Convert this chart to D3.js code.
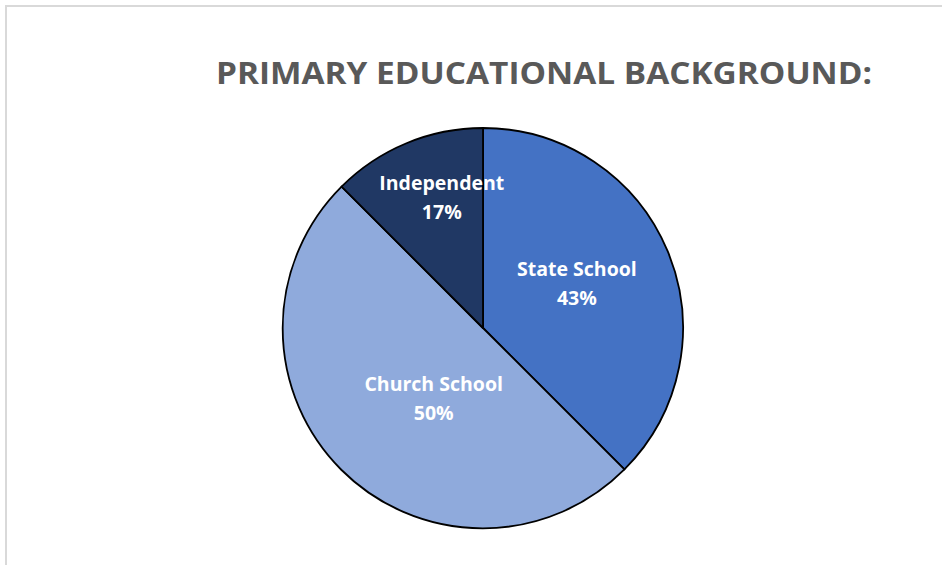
<!DOCTYPE html>
<html>
<head>
<meta charset="utf-8">
<script src="https://cdn.jsdelivr.net/npm/d3@7"></script>
<style>
  html, body { margin: 0; padding: 0; background: #fff; }
  svg { display: block; font-family: "Open Sans", "Noto Sans", sans-serif; }
</style>
</head>
<body>
<svg id="chart" width="942" height="565"></svg>
<script>
// slice shares as drawn, and the percent text printed on each slice
var categories = ["State School", "Church School", "Independent"];
var shares = [37.5, 50, 12.5];
var labels = ["43%", "50%", "17%"];
var colors = ["#4472C4", "#8FAADC", "#203864"];

var svg = d3.select("#chart");
var cx = 483, cy = 328, radius = 200;

// chart frame
svg.append("path")
    .attr("d", "M6,565 V6 H942")
    .attr("fill", "none")
    .attr("stroke", "#d9d9d9")
    .attr("stroke-width", 2);

// title
svg.append("text")
    .attr("x", 216)
    .attr("y", 84)
    .attr("textLength", 656)
    .attr("lengthAdjust", "spacingAndGlyphs")
    .attr("font-size", 31)
    .attr("font-weight", "bold")
    .attr("fill", "#595959")
    .text("PRIMARY EDUCATIONAL BACKGROUND:");

var data = categories.map(function(c, i) {
    return { name: c, value: shares[i], label: labels[i], color: colors[i] };
});

var pie = d3.pie()
    .sort(null)
    .value(function(d) { return d.value; });

var arc = d3.arc().innerRadius(0).outerRadius(radius);

var g = svg.append("g").attr("transform", "translate(" + cx + "," + cy + ")");

var slices = pie(data);

g.selectAll("path.slice")
    .data(slices)
    .enter()
    .append("path")
    .attr("class", "slice")
    .attr("d", arc)
    .attr("fill", function(d) { return d.data.color; })
    .attr("stroke", "#000")
    .attr("stroke-width", 1.8)
    .attr("stroke-linejoin", "round");

// label radius per slice (roughly where Excel put them)
var labelRadius = [104, 86, 137];
var labelShift = [-3, -10, 5]; // degrees

var lab = g.selectAll("text.lbl")
    .data(slices)
    .enter()
    .append("text")
    .attr("class", "lbl")
    .attr("text-anchor", "middle")
    .attr("font-size", 19.5)
    .attr("font-weight", "bold")
    .attr("fill", "#fff")
    .attr("transform", function(d, i) {
        var a = (d.startAngle + d.endAngle) / 2 + labelShift[i] * Math.PI / 180;
        var x = Math.sin(a) * labelRadius[i];
        var y = -Math.cos(a) * labelRadius[i];
        return "translate(" + x + "," + y + ")";
    });

lab.append("tspan")
    .attr("x", 0)
    .attr("y", -7)
    .text(function(d) { return d.data.name; });

lab.append("tspan")
    .attr("x", 0)
    .attr("y", 22)
    .text(function(d) { return d.data.label; });
</script>
</body>
</html>
